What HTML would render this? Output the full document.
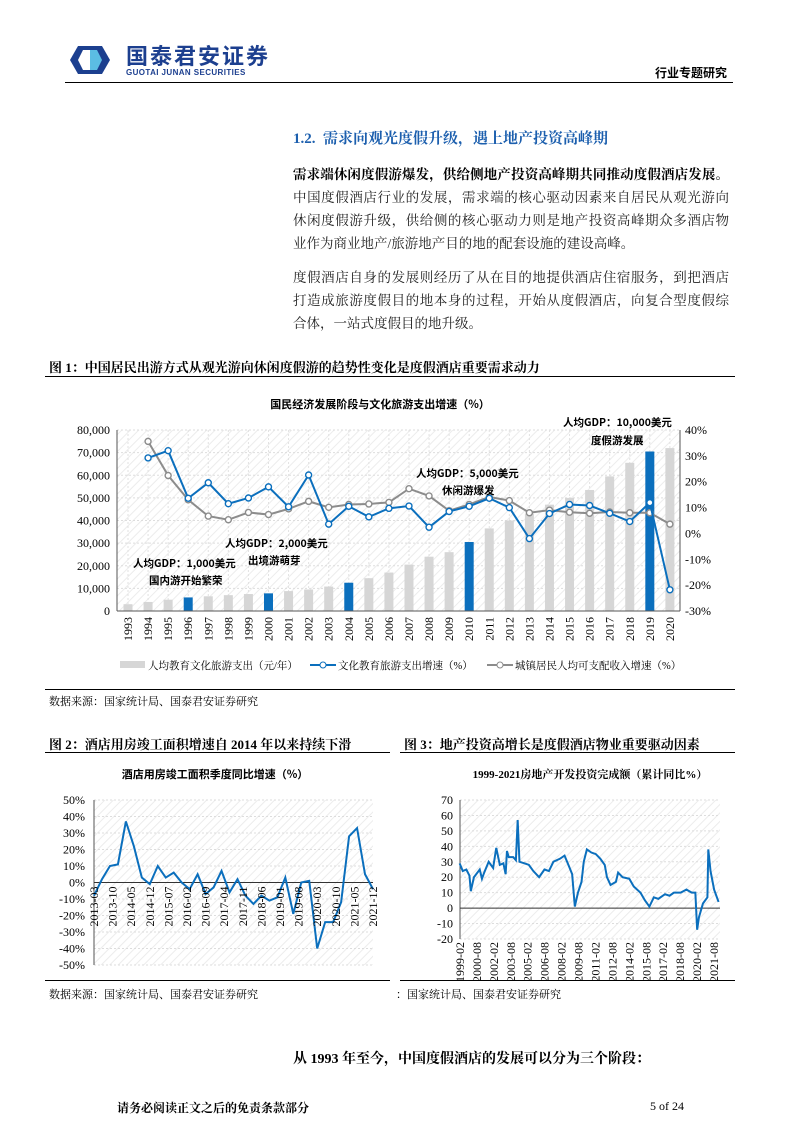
<!DOCTYPE html>
<html><head><meta charset="utf-8">
<style>
body{margin:0;background:#fff;}
#p{position:relative;width:793px;height:1122px;overflow:hidden;font-family:"Liberation Serif","Noto Serif CJK SC",serif;color:#000;}
.a{position:absolute;white-space:nowrap;}
.ln{position:absolute;left:293px;width:436px;font-size:13.5px;line-height:23px;color:#222;text-align:justify;text-align-last:justify;white-space:nowrap;}
.ln.l{text-align-last:left;}
</style></head><body><div id="p">
<svg class="a" style="left:68px;top:45px" width="44" height="30" viewBox="0 0 44 30">
<path d="M10 1 H22 V29 H10 L2 15 Z" fill="#1c3f8f"/><path d="M22 1 H34 L42 15 L34 29 H22 Z" fill="#1c3f8f"/>
<path d="M15 5 H22 V25 H15 L10 15 Z" fill="#fff"/><path d="M22 5 H29 L34 15 L29 25 H22 Z" fill="#5bbde3"/></svg>
<div class="a" style="left:126px;top:44px;font:bold 22px/1 'Noto Sans CJK SC',sans-serif;color:#1c3f8f;letter-spacing:2px">国泰君安证券</div>
<div class="a" style="left:126px;top:69px;font:bold 8px/1 'Liberation Sans',sans-serif;color:#1c3f8f;letter-spacing:0.4px">GUOTAI JUNAN SECURITIES</div>
<div class="a" style="left:655px;top:64px;font:bold 12px 'Noto Sans CJK SC',sans-serif">行业专题研究</div>
<div class="a" style="left:65px;top:82px;width:668px;border-top:1.2px solid #000"></div>
<div class="a" style="left:293px;top:127px;font:bold 15px 'Liberation Serif','Noto Serif CJK SC',serif;color:#1c5fae">1.2.&nbsp;&nbsp;需求向观光度假升级，遇上地产投资高峰期</div>
<div class="ln" style="top:163px"><b style="color:#000">需求端休闲度假游爆发，供给侧地产投资高峰期共同推动度假酒店发展。</b></div>
<div class="ln" style="top:186px">中国度假酒店行业的发展，需求端的核心驱动因素来自居民从观光游向</div>
<div class="ln" style="top:209px">休闲度假游升级，供给侧的核心驱动力则是地产投资高峰期众多酒店物</div>
<div class="ln l" style="top:232px">业作为商业地产/旅游地产目的地的配套设施的建设高峰。</div>
<div class="ln" style="top:266px">度假酒店自身的发展则经历了从在目的地提供酒店住宿服务，到把酒店</div>
<div class="ln" style="top:289px">打造成旅游度假目的地本身的过程，开始从度假酒店，向复合型度假综</div>
<div class="ln l" style="top:312px">合体，一站式度假目的地升级。</div>
<div class="a" style="left:49px;top:357px;font:bold 13px 'Liberation Serif','Noto Serif CJK SC',serif">图 1：中国居民出游方式从观光游向休闲度假游的趋势性变化是度假酒店重要需求动力</div>
<div class="a" style="left:45px;top:376px;width:690px;border-top:1px solid #000"></div>
<svg id="c1" class="a" style="left:0;top:390px" width="793" height="300"></svg>
<div class="a" style="left:45px;top:689px;width:690px;border-top:1px solid #000"></div>
<div class="a" style="left:49px;top:693px;font-size:11px">数据来源：国家统计局、国泰君安证券研究</div>
<div class="a" style="left:49px;top:734px;font:bold 13px 'Liberation Serif','Noto Serif CJK SC',serif">图 2：酒店用房竣工面积增速自 2014 年以来持续下滑</div>
<div class="a" style="left:404px;top:734px;font:bold 13px 'Liberation Serif','Noto Serif CJK SC',serif">图 3：地产投资高增长是度假酒店物业重要驱动因素</div>
<div class="a" style="left:45px;top:752px;width:345px;border-top:1px solid #000"></div>
<div class="a" style="left:400px;top:752px;width:335px;border-top:1px solid #000"></div>
<svg id="c2" class="a" style="left:0;top:760px" width="793" height="220"></svg>
<div class="a" style="left:45px;top:980px;width:345px;border-top:1px solid #000"></div>
<div class="a" style="left:400px;top:980px;width:335px;border-top:1px solid #000"></div>
<div class="a" style="left:49px;top:986px;font-size:11px">数据来源：国家统计局、国泰君安证券研究</div>
<div class="a" style="left:396px;top:986px;font-size:11px">：国家统计局、国泰君安证券研究</div>
<div class="a" style="left:293px;top:1048px;font:bold 14px 'Liberation Serif','Noto Serif CJK SC',serif">从 1993 年至今，中国度假酒店的发展可以分为三个阶段：</div>
<div class="a" style="left:117px;top:1099px;font:bold 12px 'Liberation Serif','Noto Serif CJK SC',serif">请务必阅读正文之后的免责条款部分</div>
<div class="a" style="left:650px;top:1099px;font-size:12px">5 of 24</div>
</div>
<script>
const NS="http://www.w3.org/2000/svg";
function el(s,t,a,txt){const e=document.createElementNS(NS,t);for(const k in a)e.setAttribute(k,a[k]);if(txt!==undefined)e.textContent=txt;s.appendChild(e);return e;}
const SF="Liberation Serif, Noto Serif CJK SC, serif", KF="Noto Sans CJK SC, sans-serif";
function bg(s,x0,y0,x1,y1,id){
 const d=el(s,'defs',{});const p=el(d,'pattern',{id:id,width:6,height:6,patternUnits:'userSpaceOnUse',patternTransform:'rotate(45)'});
 el(p,'line',{x1:0,y1:0,x2:0,y2:6,stroke:'#ececec','stroke-width':2});
 el(s,'rect',{x:x0,y:y0,width:x1-x0,height:y1-y0,fill:'url(#'+id+')'});
}
(function(){
const s=document.getElementById('c1');const o=390;
const L=117,R=680,T=430-o,B=611-o;
bg(s,L,T,R,B,'h1');
const X=y=>128+(y-1993)*20.07, YL=v=>B-v/80000*(B-T), YR=v=>B-(v+30)/70*(B-T);
for(let v=0;v<=80000;v+=10000){const y=YL(v);if(v>0)el(s,'line',{x1:L,x2:R,y1:y,y2:y,stroke:'#ddd','stroke-dasharray':'2,2'});
 el(s,'text',{x:L-7,y:y+4,'text-anchor':'end','font-size':12,'font-family':SF},v.toLocaleString('en-US'));}
for(let v=-30;v<=40;v+=10){const y=YR(v);el(s,'text',{x:R+5,y:y+4,'font-size':12,'font-family':SF},v+'%');}
for(let yr=1993;yr<=2020;yr++){const x=X(yr);el(s,'line',{x1:x,x2:x,y1:T,y2:B,stroke:'#e2e2e2','stroke-dasharray':'2,2'});}
const bars=[3000,4000,5000,6000,6500,7000,7500,7800,8800,9500,10800,12500,14500,17000,20500,24000,26000,30500,36500,40000,43000,47000,50000,53500,59500,65500,70500,72000];
bars.forEach((v,i)=>{const yr=1993+i;const blue=[1996,2000,2004,2010,2019].includes(yr);
 el(s,'rect',{x:X(yr)-4.5,y:YL(v),width:9,height:B-YL(v),fill:blue?'#0b6fbd':'#d6d6d6'});});
el(s,'line',{x1:L,x2:L,y1:T,y2:B,stroke:'#555'});el(s,'line',{x1:R,x2:R,y1:T,y2:B,stroke:'#555'});
el(s,'line',{x1:L,x2:R,y1:B,y2:B,stroke:'#555'});
const gray=[35.6,22.4,13,6.7,5.3,8.1,7.3,9.5,12.4,10.1,11.2,11.4,12,17.3,14.5,8.8,11.2,14.1,12.7,8,9,8.2,7.8,8.3,8,8,3.6];
const blue=[29.2,32,13.6,19.6,11.5,13.7,18,10.3,22.6,3.6,10.5,6.4,9.7,10.6,2.4,8.5,10.5,13.6,10,-2,7.7,11.2,10.8,7.8,4.6,11.9,-21.8];
[[gray,'#8c8c8c'],[blue,'#0b6fbd']].forEach(([d,c])=>{
 el(s,'polyline',{points:d.map((v,i)=>X(1994+i)+','+YR(v)).join(' '),fill:'none',stroke:c,'stroke-width':2});
 d.forEach((v,i)=>el(s,'circle',{cx:X(1994+i),cy:YR(v),r:3,fill:'#fff',stroke:c,'stroke-width':1.4}));});
for(let yr=1993;yr<=2020;yr++){const x=X(yr)+4;el(s,'text',{x:0,y:0,transform:`translate(${x},${B+6}) rotate(-90)`,'text-anchor':'end','font-size':12,'font-family':SF},yr);}
el(s,'text',{x:380,y:408-o,'text-anchor':'middle','font-size':11,'font-weight':'bold','font-family':KF},'国民经济发展阶段与文化旅游支出增速（%）');
const lab=(x,y,t)=>el(s,'text',{x:x,y:y-o,'font-size':10.5,'font-weight':'bold','font-family':KF},t);
lab(563,426,'人均GDP：10,000美元');lab(591,444,'度假游发展');lab(416,477,'人均GDP：5,000美元');lab(442,494,'休闲游爆发');
lab(225,547,'人均GDP：2,000美元');lab(248,564,'出境游萌芽');lab(133,567,'人均GDP：1,000美元');lab(149,584,'国内游开始繁荣');
const ly=665-o;
el(s,'rect',{x:120,y:ly-4,width:25,height:7,fill:'#d6d6d6'});
el(s,'text',{x:148,y:ly+4,'font-size':10.5,'font-family':SF},'人均教育文化旅游支出（元/年）');
el(s,'line',{x1:310,x2:336,y1:ly,y2:ly,stroke:'#0b6fbd','stroke-width':2});el(s,'circle',{cx:323,cy:ly,r:3,fill:'#fff',stroke:'#0b6fbd'});
el(s,'text',{x:338,y:ly+4,'font-size':10.5,'font-family':SF},'文化教育旅游支出增速（%）');
el(s,'line',{x1:487,x2:513,y1:ly,y2:ly,stroke:'#8c8c8c','stroke-width':2});el(s,'circle',{cx:500,cy:ly,r:3,fill:'#fff',stroke:'#8c8c8c'});
el(s,'text',{x:515,y:ly+4,'font-size':10.5,'font-family':SF},'城镇居民人均可支配收入增速（%）');
})();
(function(){
const s=document.getElementById('c2');const o=760;
let L=94,R=373,T=800-o,B=965-o;bg(s,L,T,R,B,'h2');
let Y=v=>T+(50-v)/100*(B-T);
for(let v=-50;v<=50;v+=10){const y=Y(v);el(s,'line',{x1:L,x2:R,y1:y,y2:y,stroke:'#ddd','stroke-dasharray':'2,2'});
 el(s,'text',{x:L-9,y:y+4,'text-anchor':'end','font-size':12,'font-family':SF},v+'%');}
const d2=[-8,2,10,11,37,22,3,-1,10,3,6,0,-4,5,-7,-3,7,-6,2,-8,-13,-8,-11,-9,3,-19,0,1,-40,-24,-24,-12,28,33,5,-4];
const X2=i=>L+i*(R-L)/35;
el(s,'line',{x1:L,x2:L,y1:T,y2:B,stroke:'#555'});el(s,'line',{x1:L,x2:R,y1:Y(0),y2:Y(0),stroke:'#333'});
el(s,'polyline',{points:d2.map((v,i)=>X2(i)+','+Y(v)).join(' '),fill:'none',stroke:'#0b6fbd','stroke-width':2});
['2013-03','2013-10','2014-05','2014-12','2015-07','2016-02','2016-09','2017-04','2017-11','2018-06','2019-01','2019-08','2020-03','2020-10','2021-05','2021-12'].forEach((t,i)=>{
 const x=L+i*(R-L)/15+4;el(s,'text',{x:0,y:0,transform:`translate(${x},${Y(0)+4}) rotate(-90)`,'text-anchor':'end','font-size':12,'font-family':SF},t);});
el(s,'text',{x:215,y:778-o,'text-anchor':'middle','font-size':11,'font-weight':'bold','font-family':KF},'酒店用房竣工面积季度同比增速（%）');
L=460;R=720;T=800-o;B=939-o;bg(s,L,T,R,B,'h3');
Y=v=>T+(70-v)/90*(B-T);
for(let v=-20;v<=70;v+=10){const y=Y(v);el(s,'line',{x1:L,x2:R,y1:y,y2:y,stroke:'#ddd','stroke-dasharray':'2,2'});
 el(s,'text',{x:L-7,y:y+4,'text-anchor':'end','font-size':12,'font-family':SF},v);}
el(s,'line',{x1:L,x2:L,y1:T,y2:B,stroke:'#555'});el(s,'line',{x1:L,x2:R,y1:Y(0),y2:Y(0),stroke:'#333'});
const p3=[[940,29],[947,24],[955,25],[962,21],[965,11],[972,20],[985,25],[990,19],[995,23],[1005,30],[1015,26],[1022,39],[1030,28],[1038,29],[1043,22],[1046,37],[1050,33],[1060,33],[1066,31],[1070,57],[1074,30],[1085,29],[1095,28],[1105,24],[1118,20],[1130,25],[1140,24],[1150,30],[1165,32],[1175,34],[1185,27],[1192,22],[1198,1],[1205,10],[1213,17],[1218,30],[1225,38],[1235,36],[1245,35],[1255,32],[1265,28],[1270,20],[1278,15],[1290,17],[1295,23],[1305,20],[1320,19],[1330,14],[1345,10],[1355,5],[1365,1],[1375,7],[1385,6],[1400,9],[1410,8],[1420,10],[1435,10],[1448,12],[1460,10],[1468,10],[1472,-14],[1476,-6],[1485,3],[1495,7],[1497,38],[1502,24],[1510,12],[1520,4]];
el(s,'polyline',{points:p3.map(([x,v])=>(40+x/2.24)+','+Y(v)).join(' '),fill:'none',stroke:'#0b6fbd','stroke-width':2});
const labs3=['1999-02','2000-08','2002-02','2003-08','2005-02','2006-08','2008-02','2009-08','2011-02','2012-08','2014-02','2015-08','2017-02','2018-08','2020-02','2021-08'];
labs3.forEach((t,i)=>{const x=L+i*(R-L-6)/15+4;el(s,'text',{x:0,y:0,transform:`translate(${x},${B+3}) rotate(-90)`,'text-anchor':'end','font-size':12,'font-family':SF},t);});
el(s,'text',{x:590,y:778-o,'text-anchor':'middle','font-size':11,'font-weight':'bold','font-family':SF},'1999-2021房地产开发投资完成额（累计同比%）');
})();
</script>
</body></html>
